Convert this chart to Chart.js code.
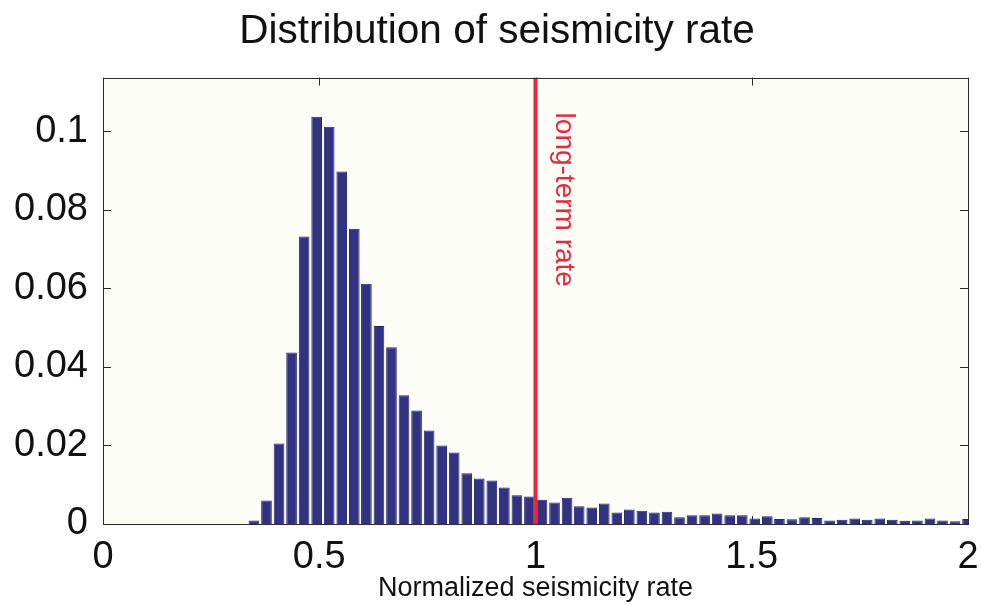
<!DOCTYPE html>
<html>
<head>
<meta charset="utf-8">
<title>Distribution of seismicity rate</title>
<script src="https://cdn.jsdelivr.net/npm/chart.js@4.4.1/dist/chart.umd.min.js"></script>
<style>
  html,body{margin:0;padding:0;background:#fff;}
  #wrap{width:981px;height:605px;position:relative;}
</style>
</head>
<body>
<div id="wrap"><canvas id="histChart" width="981" height="605"></canvas></div>
<script>
// bin centres (normalized rate) and frequency of each bin
const binCenters = [
  0.349, 0.378, 0.407, 0.436, 0.465, 0.494, 0.523, 0.552, 0.581, 0.609,
  0.638, 0.667, 0.696, 0.725, 0.754, 0.783, 0.812, 0.841, 0.870, 0.899,
  0.928, 0.957, 0.986, 1.015, 1.044, 1.073, 1.101, 1.130, 1.159, 1.188,
  1.217, 1.246, 1.275, 1.304, 1.333, 1.362, 1.391, 1.420, 1.449, 1.478,
  1.507, 1.536, 1.564, 1.593, 1.622, 1.651, 1.680, 1.709, 1.738, 1.767,
  1.796, 1.825, 1.854, 1.883, 1.912, 1.941, 1.970, 1.999
];
const frequency = [
  0.0009, 0.0060, 0.0205, 0.0437, 0.0732, 0.1037, 0.1012, 0.0898, 0.0752, 0.0612,
  0.0504, 0.0450, 0.0328, 0.0289, 0.0238, 0.0200, 0.0182, 0.0129, 0.0116, 0.0111,
  0.0093, 0.0073, 0.0070, 0.0062, 0.0055, 0.0067, 0.0045, 0.0042, 0.0052, 0.0029,
  0.0037, 0.0034, 0.0029, 0.0031, 0.0017, 0.0022, 0.0022, 0.0027, 0.0022, 0.0022,
  0.0014, 0.0020, 0.0013, 0.0012, 0.0017, 0.0015, 0.0009, 0.0011, 0.0014, 0.0011,
  0.0014, 0.0011, 0.0008, 0.0009, 0.0014, 0.0009, 0.0007, 0.0013
];
const longTermRate = 1;
const xTicks = [0, 0.5, 1, 1.5, 2];
const xTickLabels = ['0', '0.5', '1', '1.5', '2'];
const yTicks = [0, 0.02, 0.04, 0.06, 0.08, 0.1];
const yTickLabels = ['0', '0.02', '0.04', '0.06', '0.08', '0.1'];
const yMax = 0.1137;

const FONT = '"Liberation Sans", Arial, Helvetica, sans-serif';
const AXIS = '#2a2a2a';

// cream plot area, frame and inward ticks (matlab style)
const framePlugin = {
  id: 'frame',
  beforeDraw(chart){
    const {ctx, chartArea: a} = chart;
    ctx.save();
    ctx.fillStyle = '#fdfdf7';
    ctx.fillRect(a.left, a.top, a.right - a.left, a.bottom - a.top);
    ctx.restore();
  },
  beforeDatasetsDraw(chart){
    const {ctx, chartArea: a, scales} = chart;
    ctx.save();
    ctx.strokeStyle = AXIS; ctx.lineWidth = 1;
    ctx.beginPath();
    yTicks.forEach(v=>{
      const y = Math.round(scales.y.getPixelForValue(v)) + 0.5;
      ctx.moveTo(a.left, y); ctx.lineTo(a.left + 8, y);
      ctx.moveTo(a.right, y); ctx.lineTo(a.right - 8, y);
    });
    xTicks.forEach(v=>{
      const x = Math.round(scales.x.getPixelForValue(v)) + 0.5;
      ctx.moveTo(x, a.bottom); ctx.lineTo(x, a.bottom - 8);
      ctx.moveTo(x, a.top); ctx.lineTo(x, a.top + 8);
    });
    ctx.stroke();
    ctx.restore();
  },
  afterDatasetsDraw(chart){
    const {ctx, chartArea: a, scales} = chart;
    ctx.save();
    ctx.strokeStyle = AXIS; ctx.lineWidth = 1;
    ctx.strokeRect(Math.round(a.left) + 0.5, Math.round(a.top) + 0.5,
      Math.round(a.right - a.left), Math.round(a.bottom - a.top));
    // label of the long-term rate line
    const x = scales.x.getPixelForValue(longTermRate);
    ctx.translate(x + 28, a.top + 35);
    ctx.rotate(Math.PI / 2);
    ctx.fillStyle = '#e8283c';
    ctx.font = '28px ' + FONT;
    ctx.textBaseline = 'middle';
    ctx.textAlign = 'left';
    ctx.fillText('long-term rate', 0, 0);
    ctx.restore();
  }
};

const ctx = document.getElementById('histChart').getContext('2d');
new Chart(ctx, {
  type: 'bar',
  data: {
    datasets: [
      {
        type: 'line',
        label: 'long-term rate',
        data: [{x: longTermRate, y: 0}, {x: longTermRate, y: yMax}],
        borderColor: '#e8283c',
        borderWidth: 4,
        pointRadius: 0,
        order: 0,
        clip: 0
      },
      {
        label: 'seismicity rate',
        data: binCenters.map((c,i)=>({x: c, y: frequency[i]})),
        backgroundColor: '#323282',
        borderColor: '#262670',
        borderWidth: 1,
        barPercentage: 0.88,
        categoryPercentage: 1,
        order: 1,
        clip: 0
      }
    ]
  },
  options: {
    responsive: false,
    animation: false,
    layout: {padding: {left: 13, right: 0, top: 0, bottom: 0}},
    plugins: {
      legend: {display: false},
      tooltip: {enabled: false},
      title: {
        display: true,
        text: 'Distribution of seismicity rate',
        color: '#111',
        font: {family: FONT, size: 40.5, weight: 'normal'},
        padding: {top: 8, bottom: 21}
      }
    },
    scales: {
      x: {
        type: 'linear',
        min: 0, max: 2,
        offset: false,
        afterBuildTicks: s=>{ s.ticks = xTicks.map(v=>({value: v})); },
        afterFit: s=>{ s.height = 81; s.paddingLeft = 0; s.paddingRight = 13; },
        ticks: {
          callback: (v)=>xTickLabels[xTicks.indexOf(v)],
          color: '#111',
          font: {family: FONT, size: 38},
          padding: 11,
          maxRotation: 0,
          autoSkip: false
        },
        grid: {display: false, drawTicks: false, offset: false},
        border: {display: false},
        title: {
          display: true,
          text: 'Normalized seismicity rate',
          color: '#111',
          font: {family: FONT, size: 27},
          padding: {top: 0, bottom: 0}
        }
      },
      y: {
        min: 0, max: yMax,
        afterBuildTicks: s=>{ s.ticks = yTicks.map(v=>({value: v})); },
        afterFit: s=>{ s.width = 90; },
        ticks: {
          callback: (v)=>yTickLabels[yTicks.indexOf(v)],
          color: '#111',
          font: {family: FONT, size: 38},
          padding: 15,
          autoSkip: false
        },
        grid: {display: false, drawTicks: false},
        border: {display: false}
      }
    }
  },
  plugins: [framePlugin]
});
</script>
</body>
</html>
